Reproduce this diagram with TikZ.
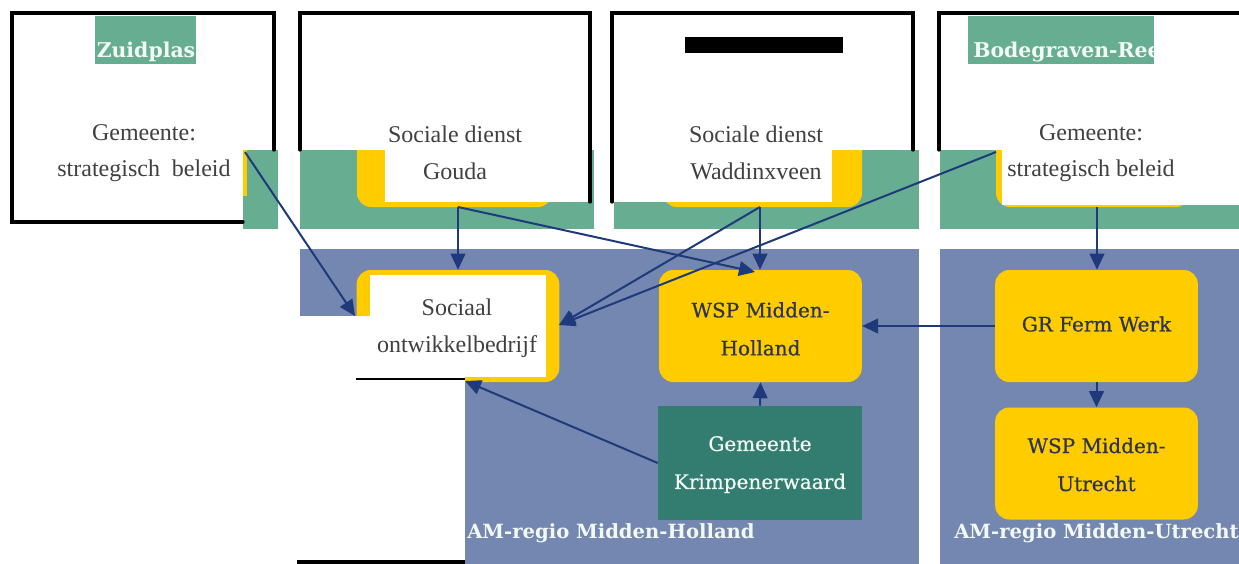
\documentclass[tikz,border=0pt]{standalone}
\usepackage{fontspec}
\setmainfont{Liberation Serif}
\newfontfamily\cambr[FakeBold=0.6]{DejaVu Serif}
\newfontfamily\cambb{DejaVu Serif}
\usetikzlibrary{arrows.meta}
\definecolor{lgreen}{HTML}{67AD92}
\definecolor{dgreen}{HTML}{327D6F}
\definecolor{regblue}{HTML}{7487B0}
\definecolor{yel}{HTML}{FFCC00}
\definecolor{arr}{HTML}{1F3A7A}
\definecolor{txtgray}{HTML}{404040}
\definecolor{txtdark}{HTML}{2E3450}
\definecolor{txtlight}{HTML}{F2F8F4}
\tikzset{
  frame/.style={line width=2.4pt, black, line cap=round},
  yelbox/.style={fill=yel, rounded corners=10.5pt, minimum width=152pt, minimum height=84pt, inner sep=0pt},
  times/.style={text=txtgray, font=\fontsize{18}{27.5}\selectfont, align=center},
  boxtxt/.style={text=txtdark, font=\cambr\fontsize{15}{28.5}\selectfont, align=center},
  lighttxt/.style={text=txtlight, font=\cambb\bfseries\fontsize{14.7}{27}\selectfont},
  conn/.style={draw=arr, line width=1.5pt, -{Triangle[length=12pt,width=11pt]}},
}
\begin{document}
\begin{tikzpicture}[x=0.75pt,y=-0.75pt]
\useasboundingbox (0,0) rectangle (1239,564);
\fill[white] (0,0) rectangle (1239,564);

% region backgrounds
\fill[regblue] (300,249) rectangle (919,564);
\fill[regblue] (940,249) rectangle (1239,564);

% green bands
\fill[lgreen] (243,150) rectangle (278,229);
\fill[lgreen] (300,150) rectangle (594,229);
\fill[lgreen] (614,150) rectangle (919,229);
\fill[lgreen] (940,150) rectangle (1239,229);

% yellow boxes inside the bands
\begin{scope}
  \clip (0,150) rectangle (1239,229);
  \fill[yel, rounded corners=10.5pt] (357,120) rectangle (552,207);
  \fill[yel, rounded corners=10.5pt] (663,120) rectangle (862,207);
  \fill[yel, rounded corners=10.5pt] (996,120) rectangle (1190,207);
  \fill[yel] (243,150) rectangle (247,196);
\end{scope}
% white text boxes over the bands
\fill[white] (385,150) rectangle (590,202);
\fill[white] (612,150) rectangle (832,202);
\fill[white] (1002,150) rectangle (1239,205);

% label backgrounds
\fill[lgreen] (95,16) rectangle (196,64);
\fill[lgreen] (968,16) rectangle (1154,64);
\fill[black] (685,37) rectangle (843,53);

% frames
\draw[frame] (243,222) -- (12,222) -- (12,13) -- (274,13) -- (274,150);
\draw[frame] (300,150) -- (300,13) -- (590,13) -- (590,202);
\draw[frame] (612,202) -- (612,13) -- (913,13) -- (913,150);
\draw[frame] (939,150) -- (939,13) -- (1240,13);

% Sociaal ontwikkelbedrijf
\node[yelbox] (soc) at (458,326) {};
\fill[white] (300,316) rectangle (465,564);
\fill[white] (370,275) rectangle (546,377);
\draw[black, line width=1.6pt] (356,379) -- (465,379);
\draw[black, line width=2.4pt] (297,562) -- (465,562);

% other boxes
\node[yelbox] (wspmh) at (760.5,326) {};
\node[fill=dgreen, minimum width=153pt, minimum height=85.5pt, inner sep=0pt] (krimp) at (760,463) {};
\node[yelbox] (grfw) at (1096.5,326) {};
\node[yelbox] (wspmu) at (1096.5,463.5) {};

% texts
\node[lighttxt, anchor=base, font=\cambb\bfseries\fontsize{15.3}{27}\selectfont] (zuidplas) at (146,57) {Zuidplas};
\begin{scope}
  \clip (968,16) rectangle (1154,64);
  \node[lighttxt, anchor=base west, inner sep=0pt, font=\cambb\bfseries\fontsize{15.3}{27}\selectfont] (bodeg) at (973,57) {Bodegraven-Ree};
\end{scope}
\node[times] (gz) at (144,153) {Gemeente:\\strategisch\ \ beleid};
\node[times] (gouda) at (455,153) {Sociale dienst\\Gouda};
\node[times] (wadd) at (756,153) {Sociale dienst\\Waddinxveen};
\node[times] (gb) at (1091,153) {Gemeente:\\strategisch beleid};
\node[times] (soctxt) at (457,328) {Sociaal\\ontwikkelbedrijf};
\node[boxtxt] at ([yshift=-2.2pt]wspmh.center) {WSP Midden-\\Holland};
\node[boxtxt, text=txtlight] at ([yshift=-1.2pt]krimp.center) {Gemeente\\Krimpenerwaard};
\node[boxtxt] at ([yshift=1.5pt]grfw.center) {GR Ferm Werk};
\node[boxtxt] at ([yshift=-0.8pt]wspmu.center) {WSP Midden-\\Utrecht};
\node[lighttxt, anchor=base west, inner sep=0pt] (amh) at (467,538) {AM-regio Midden-Holland};
\node[lighttxt, anchor=base west, inner sep=0pt] (amu) at (954,538) {AM-regio Midden-Utrecht};

% connector end points
\coordinate (zout) at (245,152);
\coordinate (socin1) at (355,316);
\coordinate (goudaout) at (458,207);
\coordinate (waddout) at (760,207);
\coordinate (bodout) at (996,152);
\coordinate (bodout2) at (1097,207);
\coordinate (socright) at (559,325);
\coordinate (socbot) at (465,381);
\coordinate (wspmhtop) at (755,272);

% connectors
\draw[conn] (zout) -- (socin1);
\draw[conn] (goudaout) -- (goudaout |- soc.north);
\draw[conn] (goudaout) -- (wspmhtop);
\draw[conn] (waddout) -- (waddout |- wspmh.north);
\draw[conn] (waddout) -- (socright);
\draw[conn] (bodout) -- (socright);
\draw[conn] (bodout2) -- (bodout2 |- grfw.north);
\draw[conn] (grfw.west) -- (wspmh.east);
\draw[conn] (grfw.south) -- (wspmu.north);
\draw[conn] (krimp.north) -- (wspmh.south);
\draw[conn] (krimp.west) -- (socbot);
\end{tikzpicture}
\end{document}
